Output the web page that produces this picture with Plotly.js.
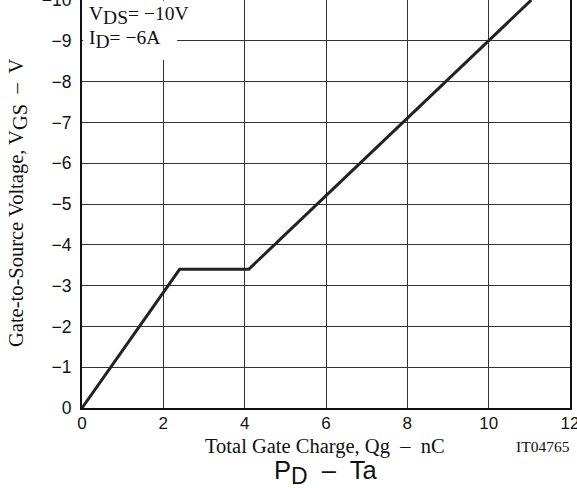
<!DOCTYPE html>
<html><head><meta charset="utf-8">
<script src="https://cdn.plot.ly/plotly-3.0.1.min.js"></script>
<style>html,body{margin:0;padding:0;background:#fff}#c{width:577px;height:488px}</style>
</head><body><div id="c"></div>
<script>
const charge = [0, 2.4, 4.1, 11.05];
const vgs = [0, -3.4, -3.4, -10];
const xTicks = [0, 2, 4, 6, 8, 10, 12];
const yTicks = [0, -1, -2, -3, -4, -5, -6, -7, -8, -9, -10];
const yTickLabels = ['0', '\u22121', '\u22122', '\u22123', '\u22124', '\u22125', '\u22126', '\u22127', '\u22128', '\u22129', '\u221210'];

const serif = 'Liberation Serif, Times New Roman, serif';
const sans = 'Liberation Sans, Arial, sans-serif';

const trace = {x: charge, y: vgs, mode: 'lines', line: {color: '#222', width: 3}, hoverinfo: 'skip'};

function sub(t, size) { return '<sub><span style="font-size:' + size + 'px">' + t + '</span></sub>'; }

const layout = {
  width: 577, height: 488,
  margin: {l: 82, r: 7, t: 0, b: 80},
  paper_bgcolor: '#fff', plot_bgcolor: '#fff',
  showlegend: false,
  xaxis: {range: [0, 12], tickvals: xTicks, showgrid: true, gridcolor: '#333', gridwidth: 1,
    zeroline: false, showline: true, linecolor: '#111', linewidth: 2, mirror: true,
    ticks: '', ticklabelstandoff: -1, ticklabeloverflow: 'allow', tickfont: {family: sans, size: 17, color: '#111'}},
  yaxis: {range: [0, -10], tickvals: yTicks, ticktext: yTickLabels, showgrid: true, gridcolor: '#333', gridwidth: 1,
    zeroline: false, showline: true, linecolor: '#111', linewidth: 2, mirror: true,
    ticks: '', ticklabelstandoff: 5, ticklabeloverflow: 'allow', tickfont: {family: sans, size: 17.5, color: '#111'}},
  shapes: [{type: 'rect', xref: 'x', yref: 'y', x0: 0.03, x1: 2.34, y0: -9.98, y1: -8.53,
    fillcolor: '#fff', line: {width: 0}, layer: 'above'}],
  annotations: [
    {xref: 'x', yref: 'y', x: 0.13, y: -9.62, xanchor: 'left', yanchor: 'middle', showarrow: false,
     text: 'V' + sub('DS', 19.5) + '= −10V', font: {family: serif, size: 19.5, color: '#111'}},
    {xref: 'x', yref: 'y', x: 0.13, y: -9.02, xanchor: 'left', yanchor: 'middle', showarrow: false,
     text: 'I' + sub('D', 19.5) + '= −6A', font: {family: serif, size: 19.5, color: '#111'}},
    {xref: 'paper', yref: 'paper', x: (325 - 82) / 488, y: -(446 - 408) / 408, xanchor: 'center', yanchor: 'middle', showarrow: false,
     text: 'Total Gate Charge, Qg  –  nC', font: {family: serif, size: 20.5, color: '#111'}},
    {xref: 'paper', yref: 'paper', x: (543 - 82) / 488, y: -(446 - 408) / 408, xanchor: 'center', yanchor: 'middle', showarrow: false,
     text: 'IT04765', font: {family: serif, size: 15.5, color: '#111'}},
    {xref: 'paper', yref: 'paper', x: (325 - 82) / 488, y: -(473 - 408) / 408, xanchor: 'center', yanchor: 'middle', showarrow: false,
     text: 'P' + sub('D', 23) + '  –  Ta', font: {family: sans, size: 25.5, color: '#111'}},
    {xref: 'paper', yref: 'paper', x: (18 - 82) / 488, y: 1 - 203 / 408, xanchor: 'center', yanchor: 'middle', showarrow: false,
     textangle: -90, text: 'Gate-to-Source Voltage, V' + sub('GS', 20.5) + '  –  V', font: {family: serif, size: 20.5, color: '#111'}}
  ]
};
Plotly.newPlot('c', [trace], layout, {displayModeBar: false, staticPlot: true});
</script></body></html>
